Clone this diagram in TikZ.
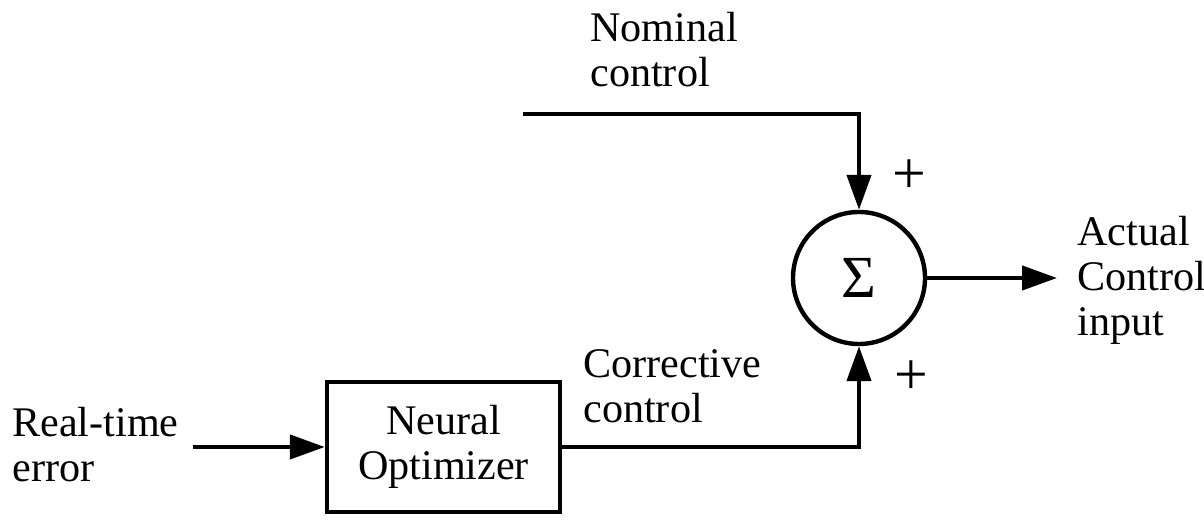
\documentclass[tikz,border=0pt]{standalone}
\usepackage{fontspec}
\setmainfont{Liberation Serif}
\usetikzlibrary{arrows.meta, positioning}

\begin{document}
\begin{tikzpicture}[
    wire/.style={line width=2.5pt},
    sig/.style={wire, -{Triangle[length=0.7cm, width=0.48cm]}},
    lbl/.style={align=left, inner sep=0pt, anchor=west, font=\fontsize{24}{25.6}\selectfont},
    sign/.style={inner sep=0pt, font=\fontsize{34}{36}\selectfont},
]
    \useasboundingbox (0,0) rectangle (24.08,10.46);

    % summing junction
    \node[circle, draw, wire, minimum size=2.64cm, inner sep=0pt, font=\fontsize{34}{36}\selectfont] (sum) at (17.18,4.90) {Σ};
    \node[sign] (plustop) at (18.18,6.92) {+};
    \node[sign] (plusbot) at (18.22,2.90) {+};

    % neural optimizer block
    \node[draw, wire, minimum width=4.66cm, minimum height=2.6cm, align=center, inner sep=0pt, font=\fontsize{24}{25.6}\selectfont] (opt) at (8.87,1.52) {Neural\\Optimizer};

    % labels
    \node[lbl] (nominal) at (11.80,9.46) {Nominal\\control};
    \node[lbl] (corrective) at (11.66,2.74) {Corrective\\control};
    \node[lbl] (error) at (0.24,1.56) {Real-time\\error};
    \node[lbl] (actual) at (21.54,4.86) {Actual\\Control\\input};

    % signal lines
    \coordinate (nomin) at (10.46,8.18);
    \coordinate (errin) at (3.86,1.52);
    \coordinate (out) at (21.14,4.90);
    \draw[sig] (nomin) -| (sum.north);
    \draw[sig] (opt.east) -| (sum.south);
    \draw[sig] (errin) -- (opt.west);
    \draw[sig] (sum.east) -- (out);
\end{tikzpicture}
\end{document}
